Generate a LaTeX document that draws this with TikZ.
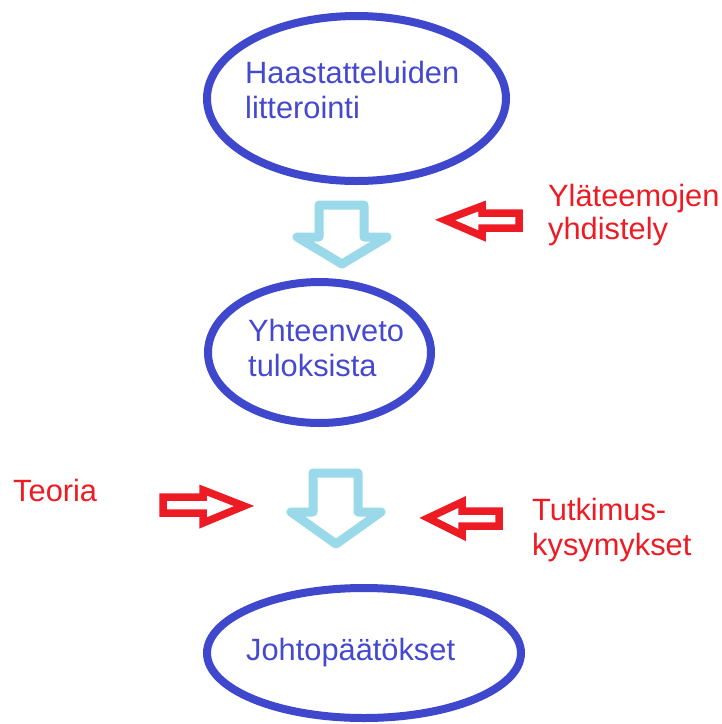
\documentclass[tikz,border=0pt]{standalone}
\usepackage{fontspec}
\setmainfont{Liberation Sans}
\usetikzlibrary{shapes.geometric}
\definecolor{ellblue}{HTML}{3F48CC}
\definecolor{txtblue}{HTML}{4549CF}
\definecolor{paintred}{HTML}{ED1C24}
\definecolor{paintcyan}{HTML}{99D9EA}
\tikzset{
  ell/.style={ellipse, draw=ellblue, line width=8pt, inner sep=0pt},
  bluetxt/.style={text=txtblue, anchor=base west, inner sep=0pt, align=left,
    font=\fontsize{30.8}{35}\selectfont},
  redtxt/.style={text=paintred, anchor=base west, inner sep=0pt, align=left,
    font=\fontsize{30.8}{35}\selectfont},
  bigarrow/.style={draw=paintcyan, line width=9pt, line join=round},
  redarrow/.style={draw=paintred, line width=7.5pt, line join=miter},
}
\begin{document}
\begin{tikzpicture}[x=1pt,y=-1pt]
\useasboundingbox (0,0) rectangle (722,724);
\fill[white] (0,0) rectangle (722,724);
% ellipses
\node[ell, minimum width=299pt, minimum height=165pt] (e1) at (356.5,98.5) {};
\node[ell, minimum width=223pt, minimum height=141pt] (e2) at (319.5,352.5) {};
\node[ell, minimum width=314pt, minimum height=130pt] (e3) at (364,653) {};
% ellipse texts (base anchor = baseline of last line)
\node[bluetxt] (t1) at (245,118) {Haastatteluiden\\litterointi};
\node[bluetxt] (t2) at (248,376) {Yhteenveto\\tuloksista};
\node[bluetxt] (t3) at (246,660) {Johtopäätökset};
% cyan block arrows
\draw[bigarrow] (319,205) -- (364,205) -- (364,237) -- (387,237) -- (342,264)
  -- (297,237) -- (319,237) -- cycle;
\draw[bigarrow] (313,473) -- (358,473) -- (358,512) -- (381,512) -- (336,544)
  -- (291,512) -- (313,512) -- cycle;
% red arrows
\draw[redarrow] (519,213) -- (482,213) -- (482,206) -- (445,220) -- (482,236)
  -- (482,228) -- (519,228) -- cycle;
\draw[redarrow] (163,497) -- (203,497) -- (203,490) -- (244,506) -- (203,523)
  -- (203,513) -- (163,513) -- cycle;
\draw[redarrow] (499,511) -- (462,511) -- (462,502) -- (428,518) -- (462,535)
  -- (462,526) -- (499,526) -- cycle;
% red labels
\node[redtxt, font=\fontsize{30.8}{33}\selectfont] (r1) at (548,239) {Yläteemojen\\yhdistely};
\node[redtxt] (r2) at (13,501) {Teoria};
\node[redtxt] (r3) at (532,555) {Tutkimus-\\kysymykset};
\end{tikzpicture}
\end{document}
